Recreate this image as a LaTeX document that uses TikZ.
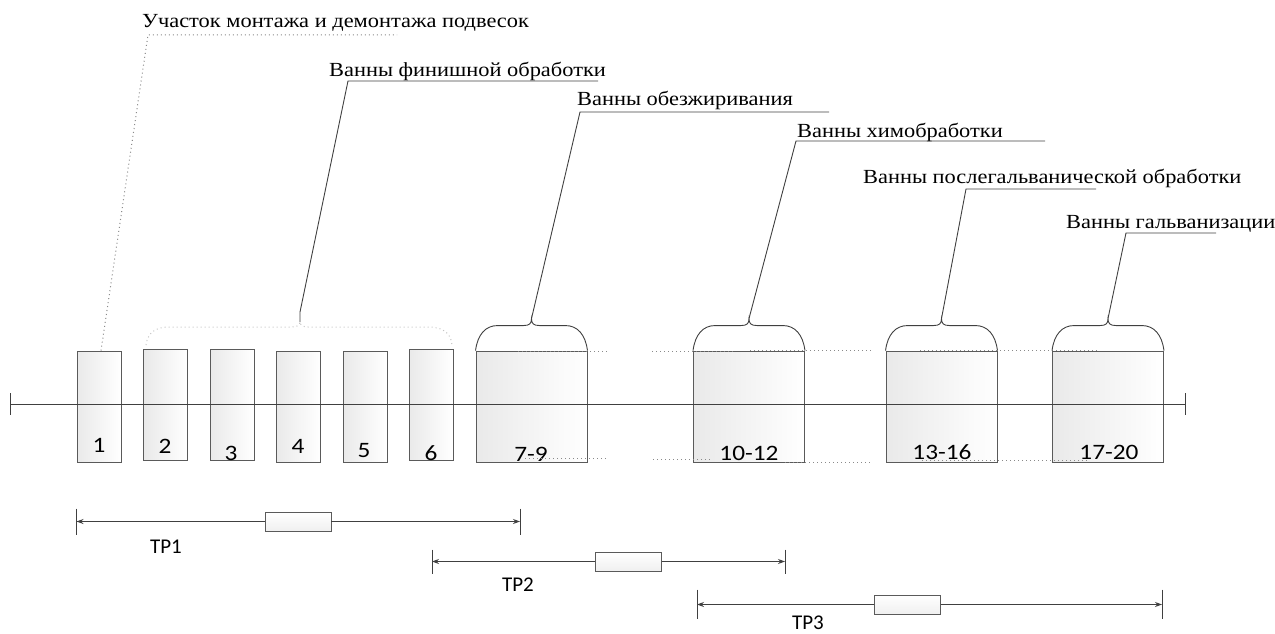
\documentclass[tikz,border=0pt]{standalone}
\usepackage{graphicx}
\usepackage{fontspec}
\setmainfont{Liberation Serif}
\newfontfamily\numfont{Carlito}
\usetikzlibrary{arrows.meta,calc}
\definecolor{ln}{HTML}{404040}
\definecolor{bx}{HTML}{5A5A5A}
\definecolor{dotc}{HTML}{8A8A8A}
\definecolor{dotl}{HTML}{C4C4C4}
\newcommand\tankbrace[2]{%
  \draw[lead] (#1.north west) .. controls +(2,-16) and +(-12,0) .. ($(#1.north west)+(22,-25)$)
    -- ($(#1.north)+(-8,-25)$) .. controls +(6,0) and +(0,5) .. ($(#1.north)+(0,-32)$) coordinate (#2)
    .. controls +(0,5) and +(-6,0) .. ($(#1.north)+(8,-25)$)
    -- ($(#1.north east)+(-22,-25)$) .. controls +(12,0) and +(-2,-16) .. (#1.north east);}
\newcommand\wlbl[1]{\scalebox{1.12}[1]{#1}}
\newcommand\wnum[1]{\scalebox{1.15}[1]{#1}}
\begin{document}
\begin{tikzpicture}[x=1pt,y=-1pt,
  tank/.style={draw=bx, line width=0.9pt, left color=gray!17, right color=white, inner sep=0pt, minimum height=111pt},
  smalltank/.style={tank, minimum width=44pt},
  bigtank/.style={tank, minimum width=111pt},
  num/.style={font=\numfont\fontsize{22}{22}\selectfont, inner sep=0pt, anchor=base, text=black},
  lbl/.style={font=\fontsize{20}{20}\selectfont, inner sep=0pt, anchor=base west, text=black},
  lead/.style={draw=ln, line width=0.9pt},
  ghost/.style={draw=dotc, line width=1pt, dash pattern=on 1pt off 3pt},
  ghostl/.style={draw=dotl, line width=1pt, dash pattern=on 1pt off 3pt},
  dimbox/.style={draw=bx, line width=0.9pt, top color=white, bottom color=gray!12, inner sep=0pt, minimum width=66pt, minimum height=19pt},
  dimarrow/.style={lead, -{Stealth[length=7pt,width=5pt]}},
  tplbl/.style={font=\numfont\fontsize{21}{21}\selectfont, inner sep=0pt, text=black}]
\useasboundingbox (0,0) rectangle (1275,634);

% tanks
\node[smalltank] (b1) at (99,406.5) {};
\node[smalltank] (b2) at (165.75,404.5) {};
\node[smalltank] (b3) at (232,404.5) {};
\node[smalltank] (b4) at (298.25,406.5) {};
\node[smalltank] (b5) at (365,406.5) {};
\node[smalltank] (b6) at (431,404.5) {};
\node[bigtank] (b7) at (531.5,406.5) {};
\node[bigtank] (b10) at (749,406.5) {};
\node[bigtank] (b13) at (941.5,406.5) {};
\node[bigtank] (b17) at (1108,406.5) {};

% numbers
\node[num] (n1) at (99,452) {\wnum{1}};
\node[num] (n2) at (165,453) {\wnum{2}};
\node[num] (n3) at (231,460) {\wnum{3}};
\node[num] (n4) at (298,453) {\wnum{4}};
\node[num] (n5) at (364,457) {\wnum{5}};
\node[num] (n6) at (431,460) {\wnum{6}};
\node[num] (n7) at (531,461) {\wnum{7-9}};
\node[num] (n10) at (749,460) {\wnum{10-12}};
\node[num] (n13) at (942,459) {\wnum{13-16}};
\node[num] (n17) at (1109,459) {\wnum{17-20}};

% main conveyor line
\coordinate (L0) at (10,404);
\coordinate (L1) at (1185,404);
\draw[lead] (L0) -- (L1);
\draw[lead] (L0) ++(0,-11) -- ++(0,22);
\draw[lead] (L1) ++(0,-11) -- ++(0,22);

% ghost dotted lines at tank tops / bottoms
\draw[ghost] (518,351) -- (607,351);
\draw[ghost] (652,351) -- (733,351);
\draw[ghost] (750,350) -- (873,350);
\draw[ghost] (920,350) -- (1097,350);
\draw[ghost] (525,458) -- (607,458);
\draw[ghost] (653,459) -- (713,459);
\draw[ghost] (785,462) -- (873,462);
\draw[ghost] (922,460) -- (1090,460);

% braces
\tankbrace{b7}{t7}
\tankbrace{b10}{t10}
\tankbrace{b13}{t13}
\tankbrace{b17}{t17}

% dotted brace over tanks 2-6
\coordinate (fb) at (300,322);
\draw[ghostl] (146,345) .. controls (148,332) and (156,327) .. (170,327) -- (292,327)
  .. controls (297,327) and (300,325) .. (fb) .. controls (300,325) and (303,327) .. (308,327)
  -- (428,327) .. controls (443,327) and (451,333) .. (452,345);

% labels
\node[lbl] (la) at (142,28) {\wlbl{Участок монтажа и демонтажа подвесок}};
\node[lbl] (lf) at (329,77) {\wlbl{Ванны финишной обработки}};
\node[lbl] (lo) at (577,105) {\wlbl{Ванны обезжиривания}};
\node[lbl] (lh) at (797,137) {\wlbl{Ванны химобработки}};
\node[lbl] (lp) at (863,183) {\wlbl{Ванны послегальванической обработки}};
\node[lbl] (lg) at (1066,228) {\wlbl{Ванны гальванизации}};

% leaders
\coordinate (a1) at (148,35);
\coordinate (a2) at (397,35);
\draw[ghost] (b1.north) ++(2,0) coordinate (a0) -- (a1) -- (a2);

\coordinate (f1) at (348,81);
\coordinate (f2) at (598,81);
\coordinate (f0) at (300,312);
\draw[lead] (fb) -- (f0) -- (f1) -- (f2);

\coordinate (o1) at (580,112);
\coordinate (o2) at (829,112);
\draw[lead] (t7) -- (o1) -- (o2);

\coordinate (h1) at (796,141);
\coordinate (h2) at (1045,141);
\draw[lead] (t10) -- (h1) -- (h2);

\coordinate (p1) at (966,189);
\coordinate (p2) at (1096,189);
\draw[lead] (t13) -- (p1) -- (p2);

\coordinate (g1) at (1126,233);
\coordinate (g2) at (1216,233);
\draw[lead] (t17) -- (g1) -- (g2);

% dimension lines
\coordinate (d1a) at (76.5,521.5);
\coordinate (d1b) at (520,521.5);
\node[dimbox] (r1) at (298,521.5) {};
\draw[lead] (d1a) ++(0,-13) -- ++(0,26);
\draw[lead] (d1b) ++(0,-13) -- ++(0,26);
\draw[dimarrow] (r1.west) -- (d1a);
\draw[dimarrow] (r1.east) -- (d1b);
\node[tplbl] (tp1) at (166,547) {ТР1};

\coordinate (d2a) at (432,561.5);
\coordinate (d2b) at (785,561.5);
\node[dimbox] (r2) at (628.5,561.5) {};
\draw[lead] (d2a) ++(0,-12) -- ++(0,24);
\draw[lead] (d2b) ++(0,-12) -- ++(0,24);
\draw[dimarrow] (r2.west) -- (d2a);
\draw[dimarrow] (r2.east) -- (d2b);
\node[tplbl] (tp2) at (518,585) {ТР2};

\coordinate (d3a) at (697,604.5);
\coordinate (d3b) at (1162,604.5);
\node[dimbox] (r3) at (907.5,604.5) {};
\draw[lead] (d3a) ++(0,-15) -- ++(0,29);
\draw[lead] (d3b) ++(0,-15) -- ++(0,29);
\draw[dimarrow] (r3.west) -- (d3a);
\draw[dimarrow] (r3.east) -- (d3b);
\node[tplbl] (tp3) at (808,623) {ТР3};
\end{tikzpicture}
\end{document}
